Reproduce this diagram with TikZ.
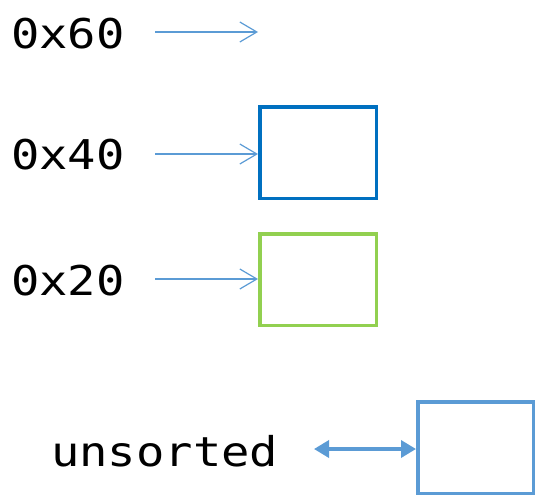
\documentclass[tikz,border=0pt]{standalone}
\usepackage{fontspec}
\usetikzlibrary{arrows.meta}
\newfontfamily\codefont[FakeStretch=1.15]{DejaVu Sans Mono}
\definecolor{ptrblue}{HTML}{5B9BD5}
\definecolor{darkblue}{HTML}{0070C0}
\definecolor{chunkgreen}{HTML}{92D050}
\begin{document}
\begin{tikzpicture}[x=1pt,y=-1pt,
  addr/.style={anchor=base west,inner sep=0pt,font=\codefont\fontsize{41}{41}\selectfont},
  chunk/.style={draw,line width=3.5pt,minimum width=116.5pt,minimum height=91.5pt,inner sep=0pt},
  ptr/.style={ptrblue,line width=1.2pt,-{Straight Barb[length=17pt,width=20pt]}},
  link/.style={ptrblue,line width=3.5pt,{Triangle[length=15pt,width=17pt]}-{Triangle[length=15pt,width=17pt]}}]
\useasboundingbox (0,0) rectangle (538,498);
% address labels
\node[addr] (l60) at (11,48) {0x60};
\node[addr] (l40) at (11,169) {0x40};
\node[addr] (l20) at (11,295) {0x20};
\node[addr] (lu) at (51,466) {unsorted};
% chunks
\node[chunk,draw=darkblue] (b40) at (318,152.5) {};
\node[chunk,draw=chunkgreen] (b20) at (318,279.5) {};
\node[chunk,draw=ptrblue,minimum width=115.5pt] (bu) at (475.5,447.5) {};
% pointer arrows
\coordinate (s60) at (155,32);
\coordinate (t60) at (258,32);
\coordinate (s40) at (155,154);
\coordinate (s20) at (155,279);
\coordinate (su) at (314,449);
\draw[ptr] (s60) -- (t60);
\draw[ptr] (s40) -- (s40 -| b40.west);
\draw[ptr] (s20) -- (s20 -| b20.west);
\draw[link] (su) -- (su -| bu.west);
\end{tikzpicture}
\end{document}
